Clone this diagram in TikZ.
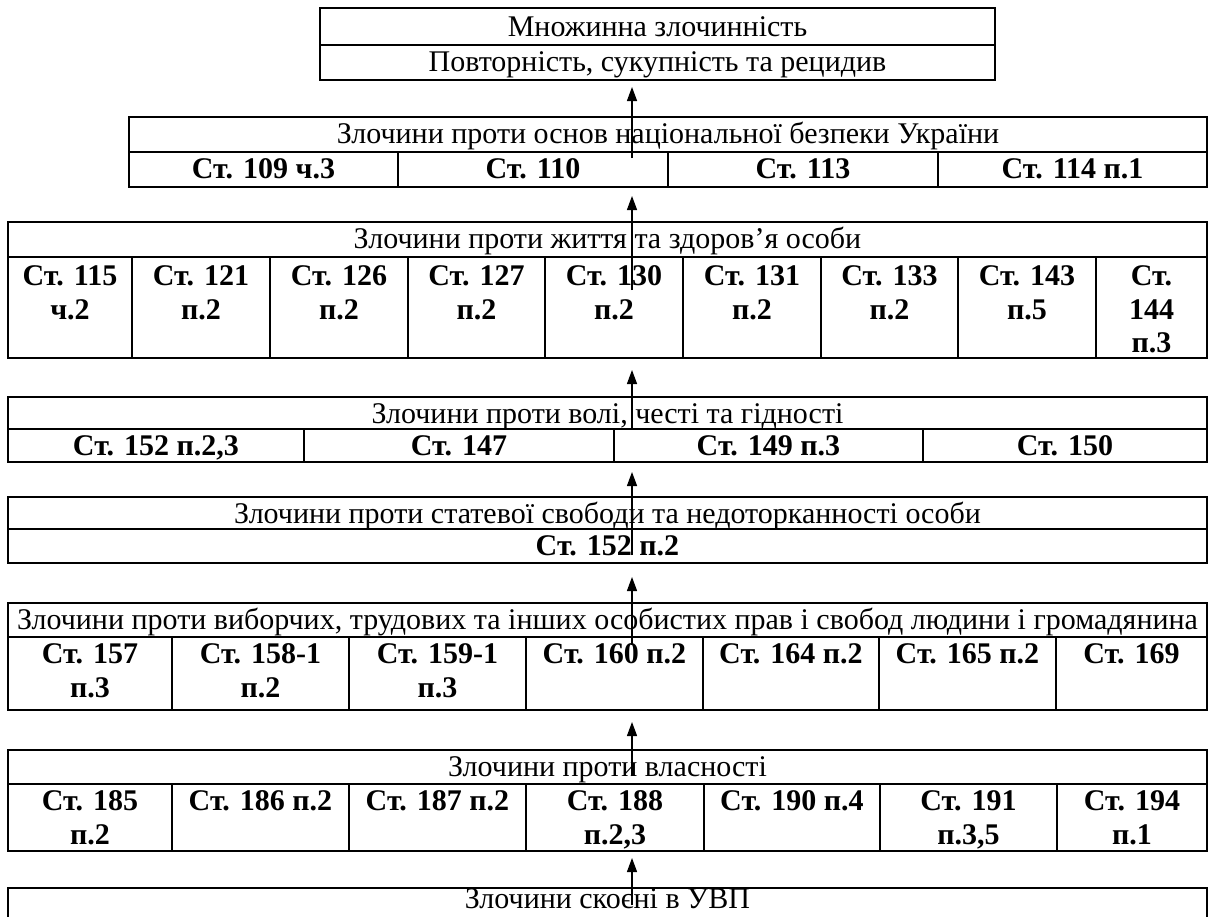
\documentclass[tikz,border=0pt]{standalone}
\usepackage{fontspec}
\setmainfont{Liberation Serif}
\usetikzlibrary{arrows.meta}
\tikzset{
  cellbox/.style={draw, line width=1.9pt, inner sep=0pt, outer sep=0pt, anchor=north west},
  hdrtext/.style={anchor=north, inner sep=0pt, outer sep=0pt, align=center, yshift=-3.5pt, font=\fontsize{30}{33.5}\selectfont},
  celltext/.style={hdrtext, font=\fontsize{30}{33.5}\selectfont\bfseries},
  upar/.style={line width=1.3pt, -{Triangle[length=14pt,width=10pt]}},
}
\begin{document}
\begin{tikzpicture}[x=1pt,y=-1pt]
\useasboundingbox (0,0) rectangle (1210,916);

% T1: top box
\node[cellbox, minimum width=675pt, minimum height=37pt] (t1a) at (320,8) {};
\node[hdrtext, yshift=-1.5pt] (t1at) at (t1a.north) {\strut Множинна злочинність};
\node[cellbox, minimum width=675pt, minimum height=35pt] (t1b) at (320,45) {};
\node[hdrtext] (t1bt) at (t1b.north) {\strut Повторність, сукупність та рецидив};

% T2
\node[cellbox, minimum width=1078pt, minimum height=35pt] (t2h) at (129,117) {};
\node[hdrtext] (t2ht) at (t2h.north) {\strut Злочини проти основ національної безпеки України};
\foreach \n/\xa/\xb/\t in {1/129/398/{Ст. 109 ч.3}, 2/398/668/{Ст. 110}, 3/668/938/{Ст. 113}, 4/938/1207/{Ст. 114 п.1}}{
  \node[cellbox, minimum width={(\xb-\xa)*1pt}, minimum height=35pt] (t2c\n) at (\xa,152) {};
  \node[celltext] (t2t\n) at (t2c\n.north) {\strut\t};
}

% T3
\node[cellbox, minimum width=1199pt, minimum height=35pt] (t3h) at (8,222) {};
\node[hdrtext] (t3ht) at (t3h.north) {\strut Злочини проти життя та здоров’я особи};
\foreach \n/\xa/\xb/\t in {1/8/132/{Ст. 115\\ч.2}, 2/132/270/{Ст. 121\\п.2}, 3/270/408/{Ст. 126\\п.2}, 4/408/545/{Ст. 127\\п.2}, 5/545/683/{Ст. 130\\п.2}, 6/683/821/{Ст. 131\\п.2}, 7/821/958/{Ст. 133\\п.2}, 8/958/1096/{Ст. 143\\п.5}, 9/1096/1207/{Ст.\\144\\п.3}}{
  \node[cellbox, minimum width={(\xb-\xa)*1pt}, minimum height=101pt] (t3c\n) at (\xa,257) {};
  \node[celltext, yshift=-2pt] (t3t\n) at (t3c\n.north) {\strut\t};
}

% T4
\node[cellbox, minimum width=1199pt, minimum height=32pt] (t4h) at (8,397) {};
\node[hdrtext] (t4ht) at (t4h.north) {\strut Злочини проти волі, честі та гідності};
\foreach \n/\xa/\xb/\t in {1/8/304/{Ст. 152 п.2,3}, 2/304/614/{Ст. 147}, 3/614/923/{Ст. 149 п.3}, 4/923/1207/{Ст. 150}}{
  \node[cellbox, minimum width={(\xb-\xa)*1pt}, minimum height=33pt] (t4c\n) at (\xa,429) {};
  \node[celltext] (t4t\n) at (t4c\n.north) {\strut\t};
}

% T5
\node[cellbox, minimum width=1199pt, minimum height=32pt] (t5h) at (8,497) {};
\node[hdrtext] (t5ht) at (t5h.north) {\strut Злочини проти статевої свободи та недоторканності особи};
\node[cellbox, minimum width=1199pt, minimum height=34pt] (t5c1) at (8,529) {};
\node[celltext] (t5t1) at (t5c1.north) {\strut Ст. 152 п.2};

% T6
\node[cellbox, minimum width=1199pt, minimum height=34pt] (t6h) at (8,603) {};
\node[hdrtext] (t6ht) at (t6h.north) {\strut Злочини проти виборчих, трудових та інших особистих прав і свобод людини і громадянина};
\foreach \n/\xa/\xb/\t in {1/8/172/{Ст. 157\\п.3}, 2/172/349/{Ст. 158-1\\п.2}, 3/349/526/{Ст. 159-1\\п.3}, 4/526/703/{Ст. 160 п.2}, 5/703/879/{Ст. 164 п.2}, 6/879/1056/{Ст. 165 п.2}, 7/1056/1207/{Ст. 169}}{
  \node[cellbox, minimum width={(\xb-\xa)*1pt}, minimum height=73pt] (t6c\n) at (\xa,637) {};
  \node[celltext] (t6t\n) at (t6c\n.north) {\strut\t};
}

% T7
\node[cellbox, minimum width=1199pt, minimum height=34pt] (t7h) at (8,750) {};
\node[hdrtext] (t7ht) at (t7h.north) {\strut Злочини проти власності};
\foreach \n/\xa/\xb/\t in {1/8/172/{Ст. 185\\п.2}, 2/172/349/{Ст. 186 п.2}, 3/349/526/{Ст. 187 п.2}, 4/526/704/{Ст. 188\\п.2,3}, 5/704/880/{Ст. 190 п.4}, 6/880/1057/{Ст. 191\\п.3,5}, 7/1057/1207/{Ст. 194\\п.1}}{
  \node[cellbox, minimum width={(\xb-\xa)*1pt}, minimum height=67pt] (t7c\n) at (\xa,784) {};
  \node[celltext] (t7t\n) at (t7c\n.north) {\strut\t};
}

% T8
\node[cellbox, minimum width=1199pt, minimum height=45pt] (t8h) at (8,888) {};
\node[anchor=base, inner sep=0pt, font=\fontsize{30}{33.5}\selectfont, yshift=-20pt] (t8ht) at (t8h.north) {Злочини скоєні в УВП};

% arrows
\coordinate (s1) at (632,158);
\coordinate (s2) at (632,290);
\coordinate (s3) at (632,429);
\coordinate (s4) at (632,555);
\coordinate (s5) at (632,645);
\coordinate (s6) at (632,776);
\coordinate (s7) at (632,905);
\draw[upar, shorten >=7pt] (s1) -- (s1 |- t1b.south);
\draw[upar, shorten >=9pt] (s2) -- (s2 |- t2c2.south);
\draw[upar, shorten >=12pt] (s3) -- (s3 |- t3c5.south);
\draw[upar, shorten >=10pt] (s4) -- (s4 |- t4c3.south);
\draw[upar, shorten >=14pt] (s5) -- (s5 |- t5c1.south);
\draw[upar, shorten >=12pt] (s6) -- (s6 |- t6c4.south);
\draw[upar, shorten >=7pt] (s7) -- (s7 |- t7c4.south);
\end{tikzpicture}
\end{document}
